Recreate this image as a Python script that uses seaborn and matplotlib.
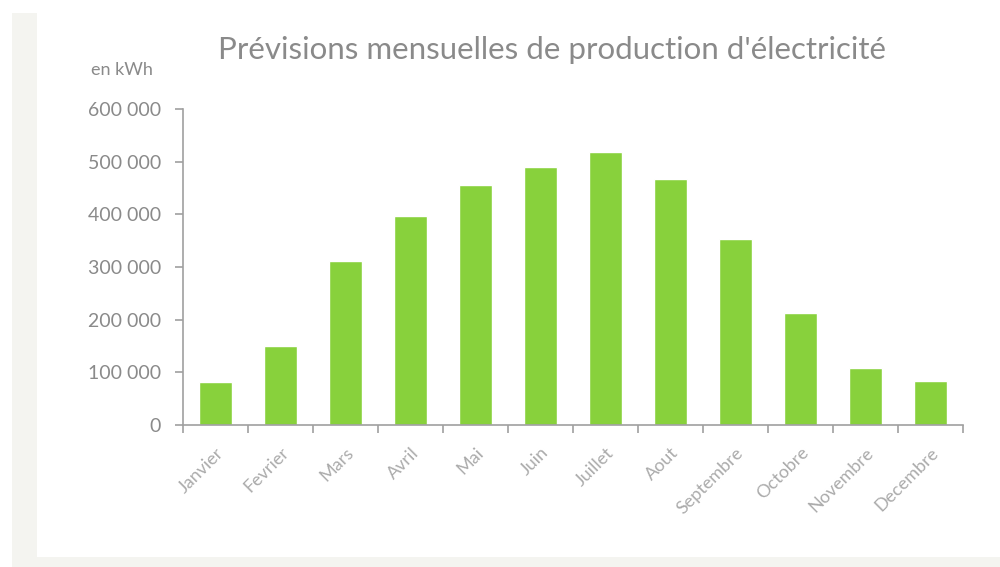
import matplotlib
matplotlib.use('Agg')
import matplotlib.pyplot as plt
import seaborn as sns
import pandas as pd
from matplotlib.patches import Rectangle
from matplotlib.ticker import FuncFormatter

# Valeurs (kWh)
mois = ['Janvier', 'Fevrier', 'Mars', 'Avril', 'Mai', 'Juin', 'Juillet',
        'Aout', 'Septembre', 'Octobre', 'Novembre', 'Decembre']
production_kwh = [82000, 150000, 312000, 397000, 456000, 489000, 519000,
                  468000, 353000, 213000, 109000, 83500]
y_ticks = [0, 100000, 200000, 300000, 400000, 500000, 600000]

GREEN = '#88d13c'
TEXT = '#8a8a8a'
LIGHT_TEXT = '#ababab'
AXIS = '#a0a0a0'

sns.set_theme(style='white')
plt.rcParams['font.family'] = ['Lato', 'DejaVu Sans']

fig = plt.figure(figsize=(10, 5.67), dpi=100)
fig.patch.set_facecolor('white')
# fond gris clair + carte blanche
fig.patches.append(Rectangle((0.012, 0), 0.988, 1 - 13 / 567, transform=fig.transFigure,
                             facecolor='#f4f4f0', edgecolor='none', zorder=-3))
fig.patches.append(Rectangle((0.037, 10 / 567), 0.963, 1 - 23 / 567, transform=fig.transFigure,
                             facecolor='white', edgecolor='none', zorder=-2))

ax = fig.add_axes([0.183, 0.2504, 0.78, 0.5573])
ax.set_facecolor('none')

df = pd.DataFrame({'mois': mois, 'kwh': production_kwh})
sns.barplot(data=df, x='mois', y='kwh', color=GREEN, saturation=1, width=0.5, ax=ax)

ax.set_xlim(-0.5, len(mois) - 0.5)
ax.set_ylim(0, 600000)
ax.set_xlabel('')
ax.set_ylabel('')

sns.despine(ax=ax)
for side in ['left', 'bottom']:
    ax.spines[side].set_color(AXIS)
    ax.spines[side].set_linewidth(1.2)

# axe y
ax.set_yticks(y_ticks)
ax.yaxis.set_major_formatter(FuncFormatter(lambda v, p: f"{int(v):,}".replace(',', ' ')))
ax.tick_params(axis='y', left=True, length=6, width=1.2, color=AXIS, pad=10,
               labelsize=14, labelcolor=TEXT)

# axe x : etiquettes au centre, graduations entre les barres
ax.set_xticks(range(len(mois)))
ax.set_xticklabels(mois, rotation=45, ha='right', rotation_mode='anchor')
ax.set_xticks([i - 0.5 for i in range(len(mois) + 1)], minor=True)
ax.tick_params(axis='x', which='major', bottom=False, length=0, pad=14,
               labelsize=13, labelcolor=LIGHT_TEXT)
ax.tick_params(axis='x', which='minor', bottom=True, length=6, width=1.2, color=AXIS)

fig.text(0.122, 1 - 70 / 567, 'en kWh', ha='center', va='center', fontsize=13, color=TEXT)
fig.text(0.552, 1 - 50 / 567, "Prévisions mensuelles de production d'électricité",
         ha='center', va='center', fontsize=22.5, color=TEXT)

fig.savefig('out.png', dpi=100)
